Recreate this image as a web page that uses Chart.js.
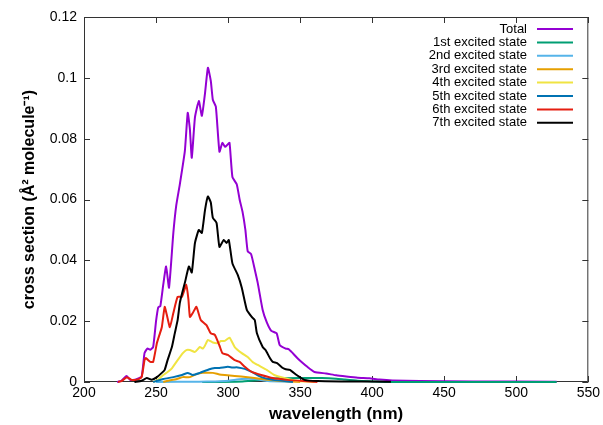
<!DOCTYPE html>
<html>
<head>
<meta charset="utf-8">
<script src="https://cdn.jsdelivr.net/npm/chart.js@4.4.1/dist/chart.umd.min.js"></script>
<style>
  html, body { margin: 0; padding: 0; background: #fff; }
  #wrap { width: 603px; height: 425px; }
</style>
</head>
<body>
<div id="wrap"><canvas id="xsChart" width="603" height="425"></canvas></div>
<script>
// datos: longitud de onda (nm) y sección eficaz
const totalWl = [223, 226, 229.5, 232, 236, 240, 242, 244, 246, 248, 250, 251.5, 253, 255, 257, 259, 262, 264, 266.5, 270, 272, 273.5, 274.8, 277, 279.7, 281.8, 284, 286, 288, 289.4, 291.5, 294, 296, 298, 299.5, 301, 303, 306, 308, 310, 312, 313.6, 316, 318.5, 320.6, 324, 326.8, 330, 333.7, 335.8, 340, 342, 344, 348, 351, 355, 360, 368, 375, 382, 390, 398, 405, 414, 433, 470, 528];
const totalVal = [0, 0.0004, 0.002, 0.0007, 0.0008, 0.0018, 0.0095, 0.011, 0.0106, 0.0115, 0.02, 0.0245, 0.025, 0.032, 0.038, 0.031, 0.049, 0.058, 0.065, 0.076, 0.0885, 0.083, 0.0737, 0.087, 0.0924, 0.0875, 0.095, 0.1033, 0.099, 0.0928, 0.0905, 0.0757, 0.0786, 0.0773, 0.078, 0.0786, 0.0674, 0.065, 0.06, 0.056, 0.05, 0.043, 0.042, 0.037, 0.0325, 0.0237, 0.0197, 0.0168, 0.016, 0.0122, 0.011, 0.0108, 0.0099, 0.0079, 0.0066, 0.005, 0.0033, 0.0028, 0.0022, 0.0018, 0.0014, 0.0012, 0.0008, 0.0005, 0.0003, 0.0002, 0.0001];

const s1Wl = [282, 310, 325, 335, 350, 365, 375, 381, 390, 400, 410, 528];
const s1Val = [0, 0.0002, 0.0008, 0.0012, 0.0013, 0.0013, 0.0011, 0.0008, 0.0004, 0.0002, 0, 0];

const s2Wl = [250, 280, 291, 300, 309.5, 318.5, 327.5, 345];
const s2Val = [0, 0.0001, 0.0002, 0.0004, 0.001, 0.001, 0.0003, 0];

const s3Wl = [255, 257.5, 264.5, 268.6, 273.5, 278, 282.5, 289.4, 294, 297.7, 304.6, 313.6, 323, 337, 350];
const s3Val = [0, 0.0003, 0.001, 0.0016, 0.0016, 0.0026, 0.003, 0.003, 0.0025, 0.0023, 0.002, 0.0016, 0.001, 0.0003, 0];

const s4Wl = [248, 252, 255, 258, 261, 265, 268.6, 271, 273.5, 277, 280.4, 282.5, 284, 286, 289.4, 293, 295, 297.7, 301, 304.6, 309.5, 313.6, 317, 320.6, 326.8, 332, 339, 348, 360];
const s4Val = [0, 0.001, 0.0023, 0.0033, 0.0045, 0.0072, 0.0095, 0.0105, 0.0105, 0.0099, 0.0115, 0.011, 0.012, 0.0138, 0.013, 0.0128, 0.0135, 0.0135, 0.0146, 0.0115, 0.0095, 0.0082, 0.0066, 0.0056, 0.004, 0.0023, 0.0013, 0.0003, 0];

const s5Wl = [248, 255, 262, 268, 272, 275.5, 280.4, 287, 290.8, 294, 299.8, 303, 306.7, 311.6, 316.4, 323, 331, 345];
const s5Val = [0, 0.001, 0.0016, 0.0023, 0.003, 0.0023, 0.003, 0.0042, 0.0046, 0.0046, 0.005, 0.0048, 0.0048, 0.0043, 0.0033, 0.0016, 0.0007, 0];

const s6Wl = [223.6, 226, 229.8, 233, 237, 240, 242, 243, 244.5, 246, 248, 250.6, 252.7, 254, 256, 257.5, 259.6, 262, 265, 268, 271, 272.5, 273.5, 275.5, 278, 281, 285, 288, 290.8, 294, 296, 299.8, 304.6, 308, 311.6, 316.4, 323, 331, 341, 352, 362];
const s6Val = [0, 0.0003, 0.0016, 0.0007, 0.0008, 0.0016, 0.0072, 0.0079, 0.0072, 0.0066, 0.0066, 0.0128, 0.016, 0.018, 0.0247, 0.022, 0.018, 0.0227, 0.028, 0.028, 0.032, 0.027, 0.0214, 0.0227, 0.0247, 0.0204, 0.0187, 0.016, 0.0155, 0.012, 0.0095, 0.0089, 0.0072, 0.0066, 0.005, 0.0033, 0.0023, 0.0013, 0.0007, 0.0003, 0];

const s7Wl = [235, 240, 243.6, 247, 250.6, 254, 256, 258, 261, 263, 265, 266.5, 268, 270, 272.8, 274.8, 277, 279.7, 281.8, 284, 286, 288, 289.4, 292, 294, 297, 299, 300.5, 303, 306.7, 309.5, 313, 316.4, 318.5, 320, 324, 326, 329, 331, 334, 338, 340, 342.8, 347.6, 353, 362, 380, 413];
const s7Val = [0, 0.0004, 0.0013, 0.0007, 0.0016, 0.003, 0.004, 0.0072, 0.0115, 0.016, 0.0204, 0.026, 0.029, 0.0326, 0.038, 0.036, 0.0457, 0.05, 0.049, 0.0566, 0.061, 0.059, 0.054, 0.0523, 0.0444, 0.0467, 0.0457, 0.0467, 0.039, 0.0352, 0.031, 0.0237, 0.0214, 0.0204, 0.016, 0.0115, 0.0105, 0.0079, 0.0066, 0.0062, 0.0046, 0.0042, 0.004, 0.0023, 0.0007, 0.0003, 0.0002, 0.0001];

const seriesLabels = ['Total', '1st excited state', '2nd excited state', '3rd excited state', '4th excited state', '5th excited state', '6th excited state', '7th excited state'];
const xTicks = [200, 250, 300, 350, 400, 450, 500, 550];
const yTicks = [0, 0.02, 0.04, 0.06, 0.08, 0.1, 0.12];

const colors = ['#9400d3', '#009e73', '#56b4e9', '#e69f00', '#f0e442', '#0072b2', '#e51e10', '#000000'];
const FONT = '"Liberation Sans", Arial, Helvetica, sans-serif';

function toPoints(wl, val) {
    return wl.map((w, i) => ({ x: w, y: val[i] }));
}

const allSeries = [
    [totalWl, totalVal], [s1Wl, s1Val], [s2Wl, s2Val], [s3Wl, s3Val],
    [s4Wl, s4Val], [s5Wl, s5Val], [s6Wl, s6Val], [s7Wl, s7Val]
];

// marco estilo gnuplot con marcas hacia dentro
const framePlugin = {
    id: 'frame',
    beforeDatasetsDraw(chart) {
        const { ctx, chartArea: a, scales } = chart;
        ctx.save();
        ctx.strokeStyle = '#333';
        ctx.lineWidth = 1;
        ctx.beginPath();
        ctx.rect(a.left + 0.5, a.top + 0.5, a.right - a.left - 1, a.bottom - a.top - 1);
        xTicks.forEach(v => {
            const px = Math.round(scales.x.getPixelForValue(v)) + 0.5;
            ctx.moveTo(px, a.bottom); ctx.lineTo(px, a.bottom - 6);
            ctx.moveTo(px, a.top); ctx.lineTo(px, a.top + 6);
        });
        yTicks.forEach(v => {
            const py = Math.round(scales.y.getPixelForValue(v)) + 0.5;
            ctx.moveTo(a.left, py); ctx.lineTo(a.left + 6, py);
            ctx.moveTo(a.right, py); ctx.lineTo(a.right - 6, py);
        });
        ctx.stroke();
        ctx.restore();
    }
};

// leyenda a la derecha, con la muestra de línea después del texto
const legendPlugin = {
    id: 'gpLegend',
    afterDraw(chart) {
        const ctx = chart.ctx;
        ctx.save();
        ctx.font = '13px ' + FONT;
        ctx.textAlign = 'right';
        ctx.textBaseline = 'middle';
        chart.data.datasets.forEach((ds, i) => {
            const y = 29 + i * 13.4;
            ctx.fillStyle = '#000';
            ctx.fillText(ds.label, 527, y);
            ctx.strokeStyle = ds.borderColor;
            ctx.lineWidth = 2;
            ctx.beginPath();
            ctx.moveTo(537, y);
            ctx.lineTo(573, y);
            ctx.stroke();
        });
        ctx.restore();
    }
};

const datasets = allSeries.map((s, i) => ({
    label: seriesLabels[i],
    data: toPoints(s[0], s[1]),
    borderColor: colors[i],
    backgroundColor: colors[i],
    borderWidth: 2,
    pointRadius: 0,
    tension: 0.15,
    fill: false,
    clip: 4,
    order: 7 - i
}));

new Chart(document.getElementById('xsChart'), {
    type: 'line',
    data: { datasets: datasets },
    options: {
        responsive: false,
        animation: false,
        devicePixelRatio: 1,
        layout: { padding: { top: 17, right: 14, left: 0, bottom: 0 } },
        plugins: {
            legend: { display: false },
            tooltip: { enabled: false }
        },
        scales: {
            x: {
                type: 'linear',
                min: 200,
                max: 550,
                afterFit: s => { s.height = 43; },
                afterBuildTicks: s => { s.ticks = xTicks.map(v => ({ value: v })); },
                grid: { display: false, drawTicks: false },
                border: { display: false },
                ticks: { color: '#000', font: { family: FONT, size: 14 }, padding: 3, maxRotation: 0 },
                title: {
                    display: true,
                    text: 'wavelength (nm)',
                    color: '#000',
                    font: { family: FONT, size: 17, weight: 'bold' },
                    padding: { top: 0, bottom: 0 }
                }
            },
            y: {
                type: 'linear',
                min: 0,
                max: 0.12,
                afterFit: s => { s.width = 84; },
                afterBuildTicks: s => { s.ticks = yTicks.map(v => ({ value: v })); },
                grid: { display: false, drawTicks: false },
                border: { display: false },
                ticks: {
                    color: '#000',
                    font: { family: FONT, size: 14 },
                    padding: 7,
                    callback: v => String(Number(v.toFixed(2)))
                },
                title: {
                    display: true,
                    text: 'cross section (Å² molecule⁻¹)',
                    color: '#000',
                    font: { family: FONT, size: 16, weight: 'bold' },
                    padding: { top: 20, bottom: 0 }
                }
            }
        }
    },
    plugins: [framePlugin, legendPlugin]
});
</script>
</body>
</html>
